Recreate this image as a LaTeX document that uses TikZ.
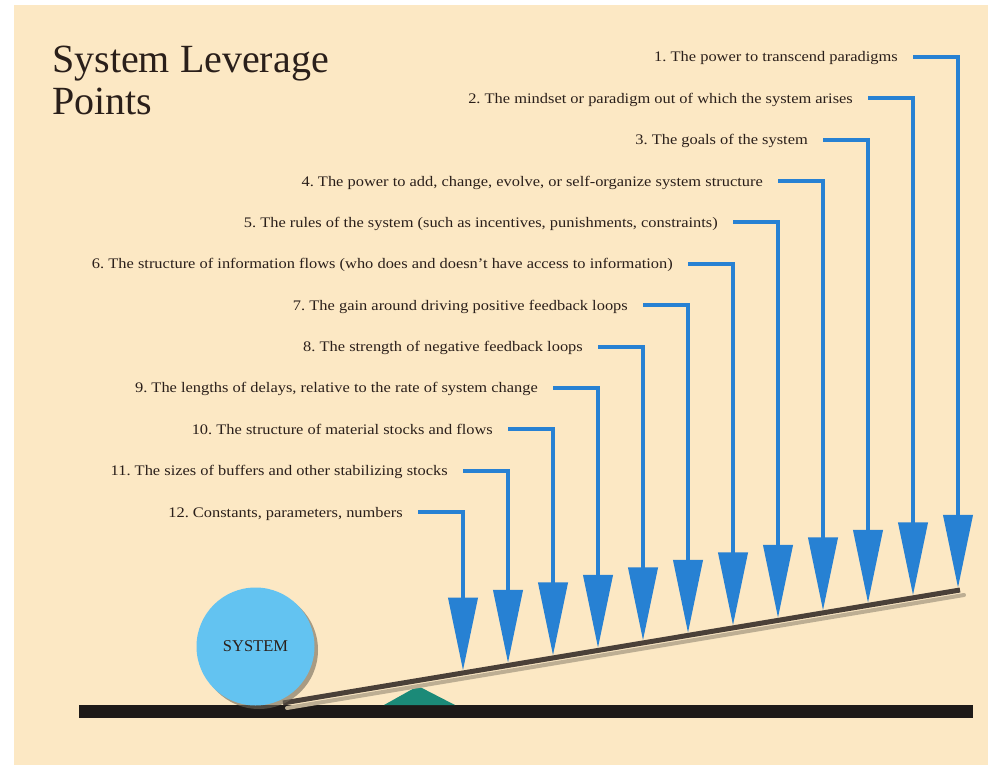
\documentclass[tikz,border=0pt]{standalone}
\usepackage{fontspec}
\setmainfont{Liberation Serif}
\newfontfamily\lblfont{Liberation Serif}[FakeStretch=1.125]
\usetikzlibrary{arrows.meta,calc}
\definecolor{cream}{HTML}{FCE8C4}
\definecolor{arrowblue}{HTML}{2781D3}
\definecolor{sysblue}{HTML}{63C3F1}
\definecolor{leverbrown}{HTML}{4A4038}
\definecolor{groundblack}{HTML}{1E1A18}
\definecolor{fulcrumgreen}{HTML}{1B8A78}
\definecolor{inkbrown}{HTML}{2A1F1A}
\tikzset{
  lbl/.style={anchor=base east, inner sep=0pt, text=inkbrown, font=\lblfont\fontsize{14.6}{16}\selectfont},
  lever arrow/.style={draw=arrowblue, line width=4, line join=miter,
    -{Triangle[width=29pt,length=73pt]}},
}
\frenchspacing
\begin{document}
\begin{tikzpicture}[x=1pt,y=-1pt]
\useasboundingbox (0,0) rectangle (988,765);
\fill[white] (0,0) rectangle (988,765);
\fill[cream] (14,5) rectangle (988,765);
% title
\node[anchor=base west, inner sep=0pt, text=inkbrown, font=\fontsize{40}{44}\selectfont] (title1) at (52,73) {System Leverage};
\node[anchor=base west, inner sep=0pt, text=inkbrown, font=\fontsize{40}{44}\selectfont] (title2) at (52,115) {Points};
% ground
\fill[groundblack] (79,705) rectangle (973,718);
% fulcrum
\fill[fulcrumgreen] (384,705) -- (418,686) -- (455,705) -- cycle;
% lever shadow and lever
\coordinate (lev0) at (283,703);
\coordinate (lev1) at (960,590);
\draw[line width=4, draw=black!25!cream, line cap=round] ($(lev0)+(4,5)$) -- ($(lev1)+(4,5)$);
\draw[line width=5, draw=leverbrown] (lev0) -- (lev1);
% system circle
\fill[black!55!cream, opacity=0.6] (259,650) circle (59);
\node[circle, fill=sysblue, minimum size=118pt, inner sep=0pt, text=inkbrown, font=\fontsize{16.5}{18}\selectfont] (sys) at (255.5,646.5) {SYSTEM};
% labels
\node[lbl] (l1) at (898,62) {1. The power to transcend paradigms};
\node[lbl] (l2) at (853,103.4) {2. The mindset or paradigm out of which the system arises};
\node[lbl] (l3) at (808,144.7) {3. The goals of the system};
\node[lbl] (l4) at (763,186.1) {4. The power to add, change, evolve, or self-organize system structure};
\node[lbl] (l5) at (718,227.4) {5. The rules of the system (such as incentives, punishments, constraints)};
\node[lbl] (l6) at (673,268.8) {6. The structure of information flows (who does and doesn’t have access to information)};
\node[lbl] (l7) at (628,310.2) {7. The gain around driving positive feedback loops};
\node[lbl] (l8) at (583,351.5) {8. The strength of negative feedback loops};
\node[lbl] (l9) at (538,392.9) {9. The lengths of delays, relative to the rate of system change};
\node[lbl] (l10) at (493,434.2) {10. The structure of material stocks and flows};
\node[lbl] (l11) at (448,475.6) {11. The sizes of buffers and other stabilizing stocks};
\node[lbl] (l12) at (403,517) {12. Constants, parameters, numbers};
% arrow start and tip coordinates
\coordinate (s1) at (913,57);      \coordinate (t1) at (958,587.8);
\coordinate (s2) at (868,98.4);    \coordinate (t2) at (913,595.3);
\coordinate (s3) at (823,139.7);   \coordinate (t3) at (868,602.9);
\coordinate (s4) at (778,181.1);   \coordinate (t4) at (823,610.4);
\coordinate (s5) at (733,222.4);   \coordinate (t5) at (778,617.9);
\coordinate (s6) at (688,263.8);   \coordinate (t6) at (733,625.4);
\coordinate (s7) at (643,305.2);   \coordinate (t7) at (688,632.9);
\coordinate (s8) at (598,346.5);   \coordinate (t8) at (643,640.4);
\coordinate (s9) at (553,387.9);   \coordinate (t9) at (598,647.9);
\coordinate (s10) at (508,429.2);  \coordinate (t10) at (553,655.4);
\coordinate (s11) at (463,470.6);  \coordinate (t11) at (508,662.9);
\coordinate (s12) at (418,512);    \coordinate (t12) at (463,670.5);
\foreach \i in {1,...,12}{
  \draw[lever arrow] (s\i) -| (t\i);
}
\end{tikzpicture}
\end{document}
